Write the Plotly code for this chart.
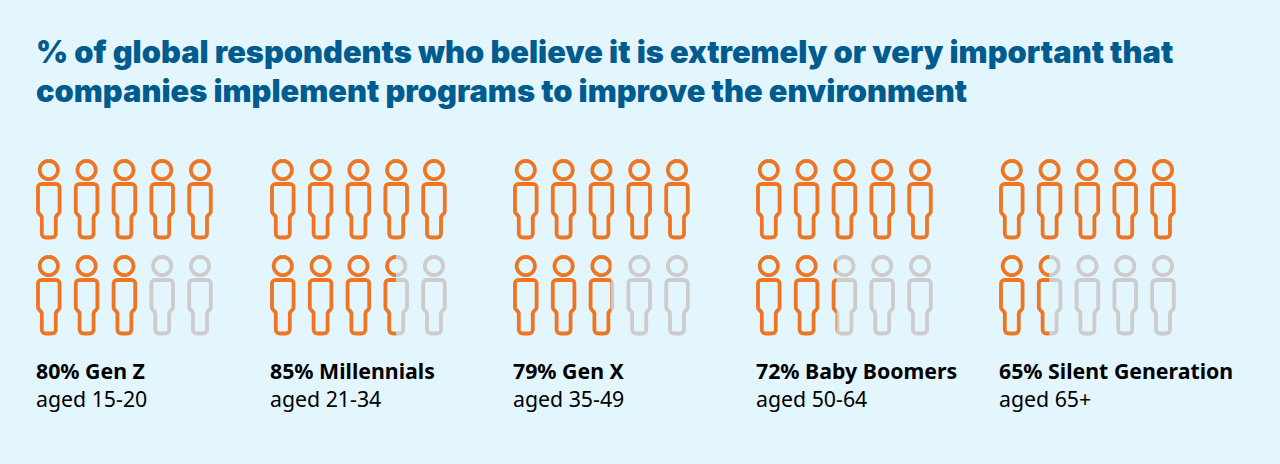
import math
import plotly.graph_objects as go

title_lines = [
    "% of global respondents who believe it is extremely or very important that",
    "companies implement programs to improve the environment",
]
generations = ["Gen Z", "Millennials", "Gen X", "Baby Boomers", "Silent Generation"]
ages = ["aged 15-20", "aged 21-34", "aged 35-49", "aged 50-64", "aged 65+"]
values = [80, 85, 79, 72, 65]

ORANGE = "#EE7623"
GREY = "#CCCCCC"
BG = "#E3F5FD"
BLUE = "#005C8F"
LW = 3.8
W = 1280
H = 464

group_x = [48.8, 282.8, 525.8, 768.8, 1011.8]
col_step = 37.8
row_y = [170, 266]
half_width = 12.65  # outer half width of the figure, the split is measured on this


def rounded(verts):
    # closed polygon with rounded corners, verts are (x, y, radius)
    out = []
    n = len(verts)
    for i in range(n):
        px, py, _ = verts[i - 1]
        cx, cy, r = verts[i]
        nx, ny, _ = verts[(i + 1) % n]
        d1 = math.hypot(px - cx, py - cy)
        d2 = math.hypot(nx - cx, ny - cy)
        a = (cx + (px - cx) * r / d1, cy + (py - cy) * r / d1)
        b = (cx + (nx - cx) * r / d2, cy + (ny - cy) * r / d2)
        for k in range(9):
            t = k / 8
            out.append((
                (1 - t) ** 2 * a[0] + 2 * t * (1 - t) * cx + t ** 2 * b[0],
                (1 - t) ** 2 * a[1] + 2 * t * (1 - t) * cy + t ** 2 * b[1],
            ))
    out.append(out[0])
    return out


body = rounded([
    (-10.8, 14, 4), (10.8, 14, 4), (10.8, 42.5, 1.5), (7, 46.5, 1.2),
    (7, 67.5, 4.5), (-7, 67.5, 4.5), (-7, 46.5, 1.2), (-10.8, 42.5, 1.5),
])
head = [(9.1 * math.sin(2 * math.pi * k / 48), -9.1 * math.cos(2 * math.pi * k / 48)) for k in range(49)]


def person(cx, cy):
    xs, ys = [], []
    for shape in (head, body):
        xs += [p[0] + cx for p in shape] + [None]
        ys += [p[1] + cy for p in shape] + [None]
    return xs, ys


def add_people(xs, ys, color, xaxis="x"):
    fig.add_trace(go.Scatter(x=xs, y=ys, xaxis=xaxis, yaxis="y", mode="lines",
                             line=dict(color=color, width=LW, simplify=False), hoverinfo="skip"))


fig = go.Figure()
extra_axes = {}

for g, value in enumerate(values):
    ox, oy, gx, gy = [], [], [], []
    for i in range(10):
        cx = group_x[g] + (i % 5) * col_step
        cy = row_y[i // 5]
        frac = max(0, min(1, value / 10 - i))
        xs, ys = person(cx, cy)
        if frac == 1:
            ox += xs
            oy += ys
        elif frac == 0:
            gx += xs
            gy += ys
        else:
            # partly filled figure: same outline twice, each cut off by its own axis domain
            cut = cx - half_width + 2 * half_width * frac
            n = len(extra_axes) + 2
            extra_axes[f"xaxis{n}"] = dict(domain=[0, cut / W], range=[0, cut], visible=False,
                                           fixedrange=True, anchor="y")
            extra_axes[f"xaxis{n + 1}"] = dict(domain=[cut / W, 1], range=[cut, W], visible=False,
                                               fixedrange=True, anchor="y")
            add_people(xs, ys, ORANGE, f"x{n}")
            add_people(xs, ys, GREY, f"x{n + 1}")
    add_people(gx, gy, GREY)
    add_people(ox, oy, ORANGE)

    fig.add_annotation(x=group_x[g] - 15.3, y=384.5, text=f"<b>{value}% {generations[g]}</b><br>{ages[g]}",
                       xanchor="left", yanchor="middle", align="left", showarrow=False,
                       font=dict(family="Noto Sans", size=21.3, color="#000000"))

for line, y in zip(title_lines, [51, 90]):
    fig.add_annotation(x=34, y=y, text=line, xanchor="left", yanchor="middle", showarrow=False,
                       font=dict(family="Inter", size=30.8, color=BLUE, weight=900))

fig.update_layout(
    width=W, height=H,
    margin=dict(l=0, r=0, t=0, b=0),
    paper_bgcolor=BG, plot_bgcolor="rgba(0,0,0,0)",
    showlegend=False,
    xaxis=dict(range=[0, W], visible=False, fixedrange=True),
    yaxis=dict(range=[H, 0], visible=False, fixedrange=True),
    **extra_axes,
)

fig.write_html("out.html", config=dict(displayModeBar=False),
               post_script="document.body.style.margin='0';document.body.style.overflow='hidden';")
